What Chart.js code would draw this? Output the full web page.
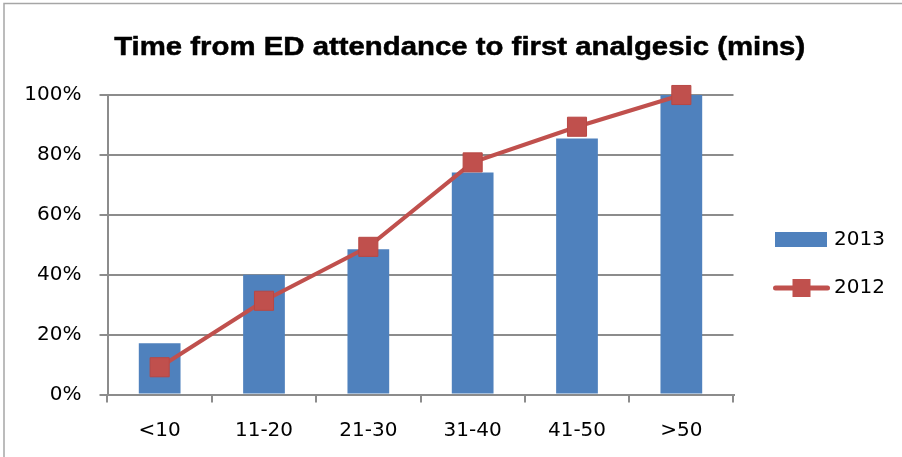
<!DOCTYPE html>
<html>
<head>
<meta charset="utf-8">
<script src="https://cdn.jsdelivr.net/npm/chart.js@4/dist/chart.umd.min.js"></script>
<style>
  html, body { margin: 0; padding: 0; background: #ffffff; }
  #wrap { width: 902px; height: 457px; position: relative; }
</style>
</head>
<body>
<div id="wrap"><canvas id="chart" width="902" height="457"></canvas></div>
<script>
// Time bands (minutes) from ED attendance to first analgesic
const categories = ['<10', '11-20', '21-30', '31-40', '41-50', '>50'];
// Cumulative share of patients (%)
const values2013 = [17.1, 40, 48.5, 74.1, 85.5, 100];
const values2012 = [9.1, 31.3, 49.3, 77.5, 89.4, 100];
const yTicks = [0, 20, 40, 60, 80, 100];

const titleText = 'Time from ED attendance to first analgesic (mins)';
const BLUE = '#4F81BD';
const RED = '#C0504D';
const GRID = '#8C8C8C';
const TITLE_FONT = '"Liberation Sans", Arial, sans-serif';
const FONT = '"DejaVu Sans", sans-serif';

// Frame, title and the right-hand legend
const decorations = {
  id: 'decorations',
  beforeDraw(chart) {
    const ctx = chart.ctx;
    ctx.save();
    ctx.fillStyle = '#ffffff';
    ctx.fillRect(0, 0, chart.width, chart.height);
    ctx.strokeStyle = '#A6A6A6';
    ctx.lineWidth = 1.5;
    ctx.strokeRect(4, 3.5, chart.width + 20, chart.height + 20);
    ctx.restore();
  },
  afterDraw(chart) {
    const ctx = chart.ctx;
    ctx.save();
    ctx.fillStyle = '#000000';
    ctx.strokeStyle = '#000000';
    ctx.lineWidth = 0.5;
    ctx.font = 'bold 26.5px ' + TITLE_FONT;
    ctx.textAlign = 'center';
    ctx.textBaseline = 'alphabetic';
    // the title is set slightly wide
    const w = ctx.measureText(titleText).width;
    const sx = 691 / w;
    ctx.translate(459.7, 55);
    ctx.scale(sx, 1);
    ctx.fillText(titleText, 0, 0);
    ctx.strokeText(titleText, 0, 0);
    ctx.restore();

    ctx.save();
    const ds = chart.data.datasets;
    ctx.font = '20px ' + FONT;
    ctx.textAlign = 'left';
    ctx.textBaseline = 'middle';
    // bar series entry
    ctx.fillStyle = ds[0].backgroundColor;
    ctx.fillRect(775, 232, 52, 15);
    ctx.fillStyle = '#000000';
    ctx.fillText(ds[0].label, 834, 240);
    // line series entry
    ctx.strokeStyle = ds[1].borderColor;
    ctx.lineWidth = 5;
    ctx.lineCap = 'round';
    ctx.beginPath();
    ctx.moveTo(775.5, 288);
    ctx.lineTo(827.5, 288);
    ctx.stroke();
    ctx.fillStyle = ds[1].pointBackgroundColor;
    ctx.fillRect(792.5, 279, 18, 18);
    ctx.fillStyle = '#000000';
    ctx.fillText(ds[1].label, 834, 288);
    ctx.restore();
  }
};

new Chart(document.getElementById('chart'), {
  type: 'bar',
  data: {
    labels: categories,
    datasets: [
      {
        type: 'bar',
        label: '2013',
        data: values2013,
        backgroundColor: BLUE,
        borderWidth: 0,
        categoryPercentage: 1,
        barPercentage: 0.4,
        order: 2
      },
      {
        type: 'line',
        label: '2012',
        data: values2012,
        borderColor: RED,
        borderWidth: 4,
        pointStyle: 'rect',
        pointRadius: 13.5,
        pointBorderWidth: 1,
        pointBackgroundColor: RED,
        pointBorderColor: '#B84844',
        tension: 0,
        clip: false,
        order: 1
      }
    ]
  },
  options: {
    responsive: false,
    devicePixelRatio: 1,
    animation: false,
    layout: { padding: { left: 0, right: 168.5, top: 95, bottom: 0 } },
    plugins: {
      legend: { display: false },
      title: { display: false },
      tooltip: { enabled: false }
    },
    scales: {
      x: {
        offset: true,
        grid: {
          offset: true,
          drawOnChartArea: false,
          drawTicks: true,
          tickLength: 8,
          color: GRID,
          lineWidth: 2
        },
        border: { display: true, color: GRID, width: 2 },
        ticks: { color: '#000000', font: { family: FONT, size: 20 }, padding: 16 },
        afterFit(scale) { scale.height = 62.5; }
      },
      y: {
        min: 0,
        max: 100,
        afterBuildTicks(scale) { scale.ticks = yTicks.map(v => ({ value: v })); },
        grid: {
          color: GRID,
          lineWidth: 2,
          drawTicks: true,
          tickLength: 8
        },
        border: { display: true, color: GRID, width: 2 },
        ticks: {
          color: '#000000',
          font: { family: FONT, size: 20 },
          padding: 18,
          callback: v => v + '%'
        },
        afterFit(scale) { scale.width = 107.5; }
      }
    }
  },
  plugins: [decorations]
});
</script>
</body>
</html>
